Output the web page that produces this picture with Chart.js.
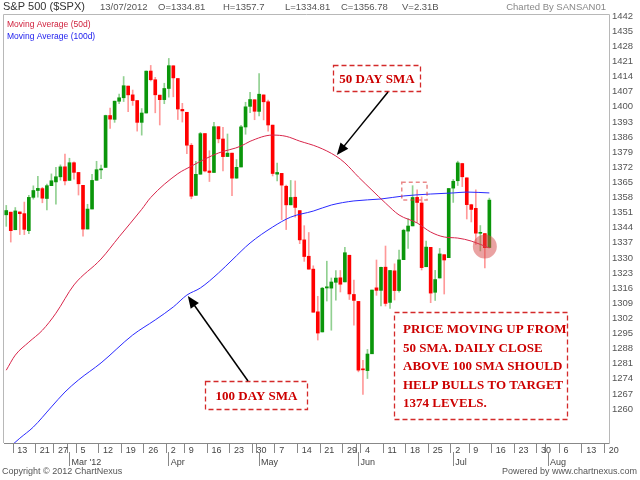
<!DOCTYPE html>
<html>
<head>
<meta charset="utf-8">
<script src="https://cdn.jsdelivr.net/npm/chart.js@4.4.0/dist/chart.umd.min.js"></script>
<style>
  html, body { margin: 0; padding: 0; background: #fff; }
  #caja { width: 640px; height: 480px; }
</style>
</head>
<body>
<div id="caja"><canvas id="grafico" width="640" height="480"></canvas></div>
<script>
const ctx = document.getElementById('grafico').getContext('2d');

// trading days shown on the axis (2012), the last weeks have no data yet
const febDays = [9,10,13,14,15,16,17,21,22,23,24,27,28,29];
const marDays = [1,2,5,6,7,8,9,12,13,14,15,16,19,20,21,22,23,26,27,28,29,30];
const aprDays = [2,3,4,5,9,10,11,12,13,16,17,18,19,20,23,24,25,26,27,30];
const mayDays = [1,2,3,4,7,8,9,10,11,14,15,16,17,18,21,22,23,24,25,29,30,31];
const junDays = [1,4,5,6,7,8,11,12,13,14,15,18,19,20,21,22,25,26,27,28,29];
const julDays = [2,3,5,6,9,10,11,12,13,16,17,18,19,20,23,24,25,26,27,30,31];
const augDays = [1,2,3,6,7,8,9,10,13,14,15,16,17,20];
const monthNames = ['Jan','Feb','Mar','Apr','May','Jun','Jul','Aug','Sep','Oct','Nov','Dec'];

// daily candles, 9 Feb .. 13 Jul
const opens = [1349.97,1351.21,1343.06,1351.30,1350.52,1342.61,1358.06,1361.22,1362.11,1357.53,1363.46,1365.20,1367.56,1372.20,
  1365.90,1374.09,1369.59,1363.63,1343.39,1352.65,1365.97,1370.78,1371.92,1395.95,1394.17,1402.55,1404.17,1409.59,1405.52,1402.89,1392.78,1397.11,1416.55,1412.52,1405.39,1403.31,
  1408.47,1418.98,1413.09,1398.79,1397.45,1382.18,1358.98,1368.77,1387.61,1370.27,1369.57,1390.78,1385.08,1376.96,1378.53,1366.97,1372.11,1390.64,1400.19,1403.26,
  1397.86,1405.50,1402.32,1391.51,1368.79,1369.16,1363.20,1354.58,1358.11,1351.93,1338.36,1330.78,1324.82,1305.05,1295.73,1316.09,1316.02,1318.72,1320.81,1318.90,1331.25,1313.09,
  1309.87,1278.29,1277.82,1285.61,1316.15,1314.99,1325.72,1309.40,1324.02,1314.88,1329.19,1342.42,1344.83,1358.04,1355.43,1325.92,1334.90,1314.09,1320.71,1331.52,1330.12,
  1362.33,1365.75,1373.72,1367.09,1354.66,1352.96,1341.40,1341.29,1334.81];
const highs = [1354.32,1351.21,1353.35,1351.30,1355.87,1359.02,1363.40,1367.76,1362.70,1364.24,1368.92,1371.94,1373.09,1378.04,
  1376.17,1374.53,1369.59,1363.63,1354.85,1368.72,1374.76,1373.04,1396.13,1399.42,1402.63,1405.88,1414.00,1409.59,1407.75,1402.89,1399.18,1416.58,1419.15,1413.65,1405.39,1410.89,
  1422.38,1419.00,1413.09,1401.60,1397.45,1383.01,1374.71,1388.13,1387.61,1379.66,1392.76,1390.78,1390.46,1387.40,1378.53,1375.57,1391.37,1402.09,1406.64,1403.26,
  1415.32,1405.50,1403.07,1391.51,1373.91,1369.16,1363.73,1365.88,1365.66,1351.93,1344.94,1341.78,1326.36,1312.24,1316.39,1328.49,1320.71,1324.14,1324.20,1334.93,1331.25,1319.74,
  1309.87,1282.55,1287.62,1315.13,1329.05,1325.81,1335.52,1324.31,1327.28,1333.68,1343.32,1348.22,1363.46,1361.57,1358.27,1337.82,1334.90,1324.24,1334.40,1331.52,1362.17,
  1366.35,1374.81,1373.85,1367.09,1354.87,1361.54,1345.00,1341.29,1357.70];
const lows = [1344.63,1337.35,1343.06,1340.83,1340.80,1341.22,1357.24,1358.11,1355.53,1352.28,1363.46,1354.92,1365.97,1363.81,
  1365.90,1366.42,1359.13,1340.03,1343.39,1352.65,1365.97,1366.69,1371.92,1389.97,1392.78,1401.47,1402.43,1397.68,1400.64,1388.73,1386.87,1397.11,1411.95,1397.20,1391.56,1401.42,
  1404.46,1404.62,1394.09,1392.92,1378.24,1357.38,1358.98,1368.77,1369.85,1365.38,1369.57,1383.29,1370.30,1376.96,1358.79,1366.82,1372.11,1387.28,1397.31,1394.00,
  1395.73,1393.92,1388.71,1367.96,1365.69,1347.75,1343.13,1354.58,1348.89,1336.61,1328.41,1324.79,1304.86,1291.98,1295.73,1310.04,1296.53,1310.50,1314.23,1318.90,1310.76,1298.90,
  1277.25,1266.74,1274.16,1285.61,1312.68,1307.77,1307.73,1306.62,1310.51,1314.14,1329.19,1334.46,1344.83,1346.45,1324.41,1325.92,1309.27,1310.30,1320.71,1313.29,1330.12,
  1355.71,1363.53,1363.02,1348.03,1346.65,1336.27,1333.25,1325.41,1334.81];
const closes = [1351.95,1342.64,1351.77,1350.50,1343.23,1358.04,1361.23,1362.21,1357.66,1363.46,1365.74,1367.59,1372.18,1365.68,
  1374.09,1369.63,1364.33,1343.36,1352.63,1365.91,1370.87,1371.09,1395.95,1394.28,1402.60,1404.17,1409.75,1405.52,1402.89,1392.78,1397.11,1416.51,1412.52,1405.54,1403.28,1408.47,
  1419.04,1413.38,1398.96,1398.08,1382.20,1358.59,1368.71,1387.57,1370.26,1369.57,1390.78,1385.14,1376.92,1378.53,1366.94,1371.97,1390.69,1399.98,1403.36,1397.91,
  1405.82,1402.31,1391.57,1369.10,1369.58,1363.72,1354.58,1357.99,1353.39,1338.35,1330.66,1324.80,1304.86,1295.22,1315.99,1316.63,1318.86,1320.68,1317.82,1332.42,1313.32,1310.33,
  1278.04,1278.18,1285.50,1315.13,1314.99,1325.66,1308.93,1324.18,1314.88,1329.10,1342.84,1344.78,1357.98,1355.69,1325.51,1335.02,1313.72,1319.99,1331.85,1329.04,1362.16,
  1365.51,1374.02,1367.58,1354.68,1352.46,1341.47,1341.45,1334.76,1356.78];

// moving averages: [day, value]
const sma50 = [['2012-02-09',1278.0],['2012-02-13',1285.0],['2012-02-16',1291.0],['2012-02-22',1296.5],['2012-02-27',1304.4],
  ['2012-03-02',1317.5],['2012-03-12',1329.5],['2012-03-16',1339.8],['2012-03-23',1352.5],['2012-03-27',1358.0],
  ['2012-04-04',1369.0],['2012-04-10',1372.5],['2012-04-13',1375.8],['2012-04-18',1378.6],['2012-04-25',1381.8],
  ['2012-04-27',1384.0],['2012-05-04',1386.9],['2012-05-09',1386.3],['2012-05-14',1384.1],['2012-05-18',1381.4],
  ['2012-05-24',1377.2],['2012-05-29',1374.0],['2012-06-01',1367.5],['2012-06-06',1361.4],['2012-06-11',1355.4],
  ['2012-06-14',1349.9],['2012-06-20',1346.2],['2012-06-25',1342.0],['2012-06-28',1339.7],['2012-07-03',1339.2],
  ['2012-07-09',1337.8],['2012-07-13',1334.6]];
const sma100 = [['2012-02-09',1241.0],['2012-02-14',1246.5],['2012-02-17',1251.7],['2012-02-24',1261.0],['2012-02-29',1267.9],
  ['2012-03-05',1273.5],['2012-03-12',1281.4],['2012-03-21',1294.3],['2012-03-28',1301.3],['2012-04-03',1307.3],
  ['2012-04-09',1312.8],['2012-04-12',1316.1],['2012-04-18',1323.0],['2012-04-23',1329.0],['2012-04-27',1336.9],
  ['2012-05-04',1344.3],['2012-05-10',1348.9],['2012-05-17',1351.7],['2012-05-23',1354.5],['2012-05-31',1356.4],
  ['2012-06-08',1357.3],['2012-06-15',1358.7],['2012-06-25',1359.6],['2012-07-02',1360.1],['2012-07-06',1360.5],
  ['2012-07-13',1360.1]];

// y ticks
const yMin = 1244.3, yMax = 1442.5, yStep = 7, yFirstLabel = 1260;

// build the category labels
const labels = [];
const fechas = [];
[[2, febDays], [3, marDays], [4, aprDays], [5, mayDays], [6, junDays], [7, julDays], [8, augDays]].forEach(([m, days]) => {
  days.forEach(d => {
    labels.push('2012-' + String(m).padStart(2, '0') + '-' + String(d).padStart(2, '0'));
    fechas.push(new Date(2012, m - 1, d));
  });
});

// first trading day of each week / month get a tick
function weekStart(i) { return i > 0 && fechas[i].getDay() <= fechas[i - 1].getDay(); }
function monthStart(i) { return i > 0 && fechas[i].getMonth() !== fechas[i - 1].getMonth(); }
const monthTicks = labels.map((l, i) => i).filter(monthStart);

const up = opens.map((o, i) => closes[i] >= o);

const decor = {
  id: 'decor',
  afterDraw(chart) {
    const c = chart.ctx;
    const a = chart.chartArea;
    const xs = chart.scales.x, ys = chart.scales.y;
    const px = (day) => xs.getPixelForValue(labels.indexOf(day));
    c.save();

    // frame of the plot
    c.strokeStyle = '#b8b8b8';
    c.lineWidth = 1;
    c.beginPath();
    c.moveTo(a.left - 0.5, a.bottom);
    c.lineTo(a.left - 0.5, a.top - 0.5);
    c.lineTo(a.right + 0.5, a.top - 0.5);
    c.lineTo(a.right + 0.5, a.bottom);
    c.stroke();

    // longer month ticks under the axis
    c.strokeStyle = '#888';
    monthTicks.forEach(i => {
      const x = Math.round(xs.getPixelForValue(i) - 0.5) + 0.5;
      c.beginPath();
      c.moveTo(x, a.bottom + 9);
      c.lineTo(x, a.bottom + 23);
      c.stroke();
    });

    // header
    c.textBaseline = 'middle';
    c.fillStyle = '#333';
    c.font = '11px "Liberation Sans", Arial, sans-serif';
    c.fillText('S&P 500 ($SPX)', 3, 7);
    c.fillStyle = '#555';
    c.font = '9.5px "Liberation Sans", Arial, sans-serif';
    c.fillText('13/07/2012', 100, 7);
    c.fillText('O=1334.81', 158, 7);
    c.fillText('H=1357.7', 223, 7);
    c.fillText('L=1334.81', 285, 7);
    c.fillText('C=1356.78', 341, 7);
    c.fillText('V=2.31B', 402, 7);
    c.fillStyle = '#888';
    c.textAlign = 'right';
    c.fillText('Charted By SANSAN01', 606, 7);

    // footer
    c.fillStyle = '#555';
    c.font = '9px "Liberation Sans", Arial, sans-serif';
    c.fillText('Powered by www.chartnexus.com', 637, 472);
    c.textAlign = 'left';
    c.fillText('Copyright \u00a9 2012 ChartNexus', 2, 472);

    // legend
    c.font = '8.5px "Liberation Sans", Arial, sans-serif';
    c.fillStyle = '#d0203c';
    c.fillText('Moving Average (50d)', 7, 25);
    c.fillStyle = '#2020ee';
    c.fillText('Moving Average (100d)', 7, 37);

    // highlight circle on the last candles
    c.fillStyle = 'rgba(214, 70, 70, 0.5)';
    c.beginPath();
    c.arc(px('2012-07-12'), ys.getPixelForValue(1335.3), 12, 0, Math.PI * 2);
    c.fill();

    // small dashed box on the june top
    c.setLineDash([4, 3]);
    c.lineWidth = 1.5;
    c.strokeStyle = 'rgba(220, 60, 60, 0.6)';
    const bx0 = xs.getPixelForValue(87.6), bx1 = xs.getPixelForValue(93.2);
    const by0 = ys.getPixelForValue(1365.1), by1 = ys.getPixelForValue(1356.8);
    c.strokeRect(bx0, by0, bx1 - bx0, by1 - by0);

    // dashed note boxes
    c.strokeStyle = '#d42a2a';
    c.lineWidth = 1.3;
    c.setLineDash([5, 3]);
    c.strokeRect(333.5, 65.5, 87, 26);
    c.strokeRect(205.5, 381.5, 102, 28);
    c.strokeRect(394.5, 312.5, 173, 107);
    c.setLineDash([]);

    c.fillStyle = '#cc0000';
    c.font = 'bold 13px "Liberation Serif", "Times New Roman", serif';
    c.textBaseline = 'alphabetic';
    c.textAlign = 'center';
    c.fillText('50 DAY SMA', 377, 83);
    c.fillText('100 DAY SMA', 256.5, 400);
    c.textAlign = 'left';
    ['PRICE MOVING UP FROM', '50 SMA. DAILY CLOSE', 'ABOVE 100 SMA SHOULD', 'HELP BULLS TO TARGET', '1374 LEVELS.']
      .forEach((t, i) => c.fillText(t, 403, 333 + i * 18.6));

    // arrows to the averages
    function flecha(x0, y0, x1, y1) {
      const ang = Math.atan2(y1 - y0, x1 - x0);
      c.strokeStyle = '#000';
      c.fillStyle = '#000';
      c.lineWidth = 1.5;
      c.beginPath();
      c.moveTo(x0, y0);
      c.lineTo(x1 - Math.cos(ang) * 6, y1 - Math.sin(ang) * 6);
      c.stroke();
      c.beginPath();
      c.moveTo(x1, y1);
      c.lineTo(x1 - 12 * Math.cos(ang) + 5 * Math.sin(ang), y1 - 12 * Math.sin(ang) - 5 * Math.cos(ang));
      c.lineTo(x1 - 12 * Math.cos(ang) - 5 * Math.sin(ang), y1 - 12 * Math.sin(ang) + 5 * Math.cos(ang));
      c.closePath();
      c.fill();
    }
    flecha(388, 92, px('2012-05-24') + 1, ys.getPixelForValue(1377.2) - 1);
    flecha(248, 381, px('2012-04-09') + 1, ys.getPixelForValue(1312.8) + 1);

    c.restore();
  }
};

new Chart(ctx, {
  data: {
    labels: labels,
    datasets: [
      {
        type: 'line',
        label: 'Moving Average (50d)',
        data: sma50.map(p => ({ x: p[0], y: p[1] })),
        borderColor: '#d8254a',
        borderWidth: 1,
        pointRadius: 0,
        cubicInterpolationMode: 'monotone'
      },
      {
        type: 'line',
        label: 'Moving Average (100d)',
        data: sma100.map(p => ({ x: p[0], y: p[1] })),
        borderColor: '#2a2aff',
        borderWidth: 1,
        pointRadius: 0,
        cubicInterpolationMode: 'monotone'
      },
      {
        type: 'bar',
        label: 'body',
        data: opens.map((o, i) => [o, closes[i]]),
        backgroundColor: (c) => up[c.dataIndex] ? '#0a960a' : '#ff0000',
        barThickness: 3,
        minBarLength: 1,
        grouped: false,
        borderWidth: 0
      },
      {
        type: 'bar',
        label: 'wick',
        data: lows.map((l, i) => [l, highs[i]]),
        backgroundColor: (c) => up[c.dataIndex] ? 'rgba(10,150,10,0.45)' : 'rgba(255,0,0,0.4)',
        barThickness: 1,
        grouped: false,
        borderWidth: 0
      }
    ]
  },
  options: {
    responsive: false,
    animation: false,
    devicePixelRatio: 1,
    layout: { padding: { left: 4, top: 15, right: 0, bottom: 0 } },
    plugins: {
      legend: { display: false },
      tooltip: { enabled: false }
    },
    scales: {
      x: {
        type: 'category',
        offset: true,
        grid: {
          drawOnChartArea: false,
          drawTicks: true,
          tickLength: 10,
          tickColor: (c) => (weekStart(c.index) || monthStart(c.index)) ? '#888' : 'rgba(0,0,0,0)'
        },
        border: { display: true, color: '#888' },
        ticks: {
          autoSkip: false,
          maxRotation: 0,
          minRotation: 0,
          align: 'start',
          labelOffset: 2,
          padding: -8.4,
          color: '#444',
          font: { family: '"Liberation Sans", Arial, sans-serif', size: 9, lineHeight: 1.3 },
          callback: function (value, index) {
            const w = weekStart(index) ? String(fechas[index].getDate()) : '';
            let m = '';
            if (monthStart(index)) {
              m = monthNames[fechas[index].getMonth()];
              if (index === monthTicks[0]) m += " '12";
            }
            if (!w && !m) return '';
            return m ? [w, m] : w;
          }
        },
        afterFit: function (s) { s.height = 37; s.paddingLeft = 0; s.paddingRight = 0; }
      },
      y: {
        position: 'right',
        min: yMin,
        max: yMax,
        grid: { display: false, drawTicks: false },
        border: { display: true, color: '#b8b8b8' },
        ticks: {
          stepSize: yStep,
          includeBounds: false,
          padding: 3,
          color: '#555',
          font: { family: '"Liberation Sans", Arial, sans-serif', size: 9.5 },
          callback: (v) => v >= yFirstLabel ? v : ''
        },
        afterFit: function (s) { s.width = 31; s.paddingTop = 0; s.paddingBottom = 0; }
      }
    }
  },
  plugins: [decor]
});
</script>
</body>
</html>
